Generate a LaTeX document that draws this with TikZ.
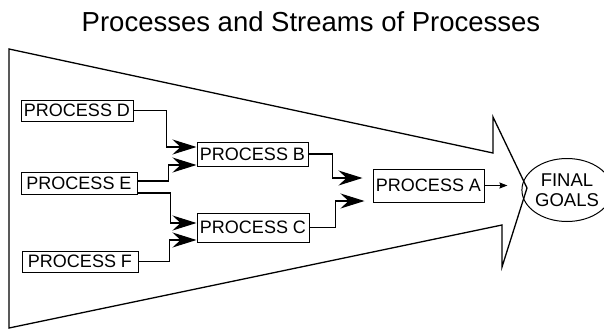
\documentclass[tikz,border=0pt]{standalone}
\usepackage{fontspec}
\setmainfont{Liberation Sans}
\usetikzlibrary{arrows.meta,shapes.geometric}
\begin{document}
\begin{tikzpicture}[x=1pt,y=-1pt,
  procbox/.style={draw,line width=1pt,inner sep=0pt,font=\fontsize{18}{20}\selectfont},
  flowline/.style={line width=1.1pt,-{Stealth[length=24pt,width=15pt,inset=8pt]}},
  smallflow/.style={line width=1.1pt,-{Stealth[length=8pt,width=6pt,inset=1pt]}},
  outline/.style={line width=1.3pt,line join=miter}]
\useasboundingbox (0,0) rectangle (604,329);
% title
\node[anchor=base,font=\fontsize{27.5}{30}\selectfont] (title) at (311,32) {Processes and Streams of Processes};
% big arrow outline
\draw[outline] (9,49) -- (493,153) -- (493,117) -- (527,188) -- (502,267) -- (502,225) -- (9,328) -- cycle;
% process boxes
\node[procbox,minimum width=112pt,minimum height=21pt] (D) at (77,110.5) {PROCESS D};
\node[procbox,minimum width=116pt,minimum height=22pt] (E) at (79,183) {PROCESS E};
\node[procbox,minimum width=116pt,minimum height=21pt] (F) at (80,261.5) {PROCESS F};
\node[procbox,minimum width=111pt,minimum height=24pt] (B) at (252.5,154) {PROCESS B};
\node[procbox,minimum width=112pt,minimum height=29pt] (C) at (253,227.5) {PROCESS C};
\node[procbox,minimum width=111pt,minimum height=33pt] (A) at (428.5,185.5) {PROCESS A};
\node[draw,ellipse,line width=1pt,inner sep=0pt,minimum width=73pt,minimum height=63pt,
      align=center,font=\fontsize{18.5}{20}\selectfont] (G) at (567,190) {FINAL\\GOALS};
% arrow target points
\coordinate (b1) at ([yshift=7pt]B.west);
\coordinate (b2) at ([yshift=-11pt]B.west);
\coordinate (c1) at ([yshift=4.5pt]C.west);
\coordinate (c2) at ([yshift=-12.5pt]C.west);
\coordinate (a1) at ([xshift=-10pt,yshift=7.5pt]A.west);
\coordinate (a2) at ([xshift=-8pt,yshift=-15.5pt]A.west);
\coordinate (g1) at ([xshift=-14pt]G.west |- A.east);
% connectors
\draw[flowline] (D.east) -- ++(33,0) |- (b1);
\draw[flowline] ([yshift=2pt]E.east) -- ++(31,0) |- (b2);
\draw[flowline] ([yshift=-10pt]E.east) -- ++(33,0) |- (c1);
\draw[flowline] (F.east) -- ++(31,0) |- (c2);
\draw[flowline] (B.east) -- ++(24,0) |- (a1);
\draw[flowline] (C.east) -- ++(26,0) |- (a2);
\draw[smallflow] (A.east) -- (g1);
\end{tikzpicture}
\end{document}
